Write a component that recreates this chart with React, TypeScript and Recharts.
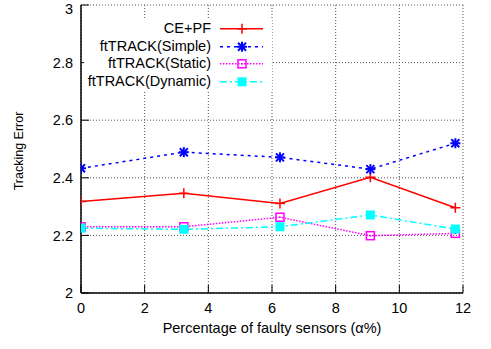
import React from 'react';
import { LineChart, Line, XAxis, YAxis, CartesianGrid, Legend, Label } from 'recharts';

const font = '"Liberation Sans", Arial, Helvetica, sans-serif';

// percentage of faulty sensors
const xValues = [0, 3.23, 6.25, 9.09, 11.76];
const cePf = [2.318, 2.346, 2.311, 2.402, 2.296];
const ftSimple = [2.433, 2.489, 2.471, 2.430, 2.520];
const ftStatic = [2.230, 2.230, 2.263, 2.199, 2.207];
const ftDynamic = [2.225, 2.221, 2.230, 2.271, 2.222];

const xTicks = [0, 2, 4, 6, 8, 10, 12];
const yTicks = [2, 2.2, 2.4, 2.6, 2.8, 3];

const data = xValues.map((x, i) => ({
  x,
  cePf: cePf[i],
  simple: ftSimple[i],
  stat: ftStatic[i],
  dyn: ftDynamic[i]
}));

type MarkerKind = 'plus' | 'star' | 'openSquare' | 'filledSquare';

function Marker({ kind, cx, cy, color }: { kind: MarkerKind; cx: number; cy: number; color: string }) {
  if (kind === 'plus') {
    return <g stroke={color} strokeWidth={1.5}>
        <line x1={cx - 5} x2={cx + 5} y1={cy} y2={cy} />
        <line x1={cx} x2={cx} y1={cy - 5} y2={cy + 5} />
      </g>;
  }
  if (kind === 'star') {
    return <g stroke={color} strokeWidth={2}>
        <line x1={cx - 5} x2={cx + 5} y1={cy} y2={cy} />
        <line x1={cx} x2={cx} y1={cy - 5} y2={cy + 5} />
        <line x1={cx - 4} x2={cx + 4} y1={cy - 4} y2={cy + 4} />
        <line x1={cx - 4} x2={cx + 4} y1={cy + 4} y2={cy - 4} />
      </g>;
  }
  if (kind === 'openSquare') {
    return <g>
        <rect x={cx - 4} y={cy - 4} width={8} height={8} fill="none" stroke={color} strokeWidth={1.5} />
        <rect x={cx - 0.75} y={cy - 0.75} width={1.5} height={1.5} fill={color} />
      </g>;
  }
  return <rect x={cx - 4.5} y={cy - 4.5} width={9} height={9} fill={color} />;
}

const series = [{
  key: 'cePf',
  name: 'CE+PF',
  color: '#ff0000',
  dash: undefined,
  marker: 'plus' as MarkerKind
}, {
  key: 'simple',
  name: 'ftTRACK(Simple)',
  color: '#0000ff',
  dash: '3 4',
  marker: 'star' as MarkerKind
}, {
  key: 'stat',
  name: 'ftTRACK(Static)',
  color: '#ff00ff',
  dash: '1.5 1.5',
  marker: 'openSquare' as MarkerKind
}, {
  key: 'dyn',
  name: 'ftTRACK(Dynamic)',
  color: '#00ffff',
  dash: '7 3 2 3',
  marker: 'filledSquare' as MarkerKind
}];

const renderLegend = () => <div style={{ background: '#fff', width: 188 }}>
    {series.map(s => <div key={s.key} style={{ display: 'flex', alignItems: 'center', height: 17.6 }}>
        <span style={{ width: 127, textAlign: 'right', fontSize: 14.5, fontFamily: font, color: '#000', lineHeight: '17.6px' }}>
          {s.name}
        </span>
        <svg width={52} height={17.6} style={{ marginLeft: 9 }}>
          <line x1={0} x2={43} y1={8.8} y2={8.8} stroke={s.color} strokeWidth={1.5} strokeDasharray={s.dash} />
          <Marker kind={s.marker} cx={22} cy={8.8} color={s.color} />
        </svg>
      </div>)}
  </div>;

const renderYLabel = (props: any) => {
  const vb = props.viewBox || {};
  const cy = (vb.y || 0) + (vb.height || 0) / 2 + 2;
  return <text x={19} y={cy} transform={`rotate(-90 19 ${cy})`} textAnchor="middle" dominantBaseline="central" fontSize={12.5} fontFamily={font} fill="#000">
      Tracking Error
    </text>;
};

export default function App() {
  const axisLine = { stroke: '#000', strokeWidth: 1.5 };
  const tickStyle = { fill: '#000', fontSize: 14.5, fontFamily: font };
  return <div>
      <style>{`body{margin:0}`}</style>
      <LineChart width={491} height={349} data={data} margin={{ top: 5, right: 28, left: 0, bottom: 0 }}>
        <CartesianGrid stroke="#555" strokeDasharray="1 2" />
        <XAxis dataKey="x" type="number" domain={[0, 12]} ticks={xTicks} allowDataOverflow height={56} tickSize={-8} tickMargin={18} axisLine={axisLine} tickLine={{ stroke: '#000' }} tick={tickStyle}>
          <Label value="Percentage of faulty sensors (α%)" position="insideBottom" offset={16} fontSize={14.5} fontFamily={font} fill="#000" />
        </XAxis>
        <XAxis xAxisId="top" orientation="top" dataKey="x" type="number" domain={[0, 12]} ticks={xTicks} allowDataOverflow height={0} tickSize={-8} axisLine={axisLine} tickLine={{ stroke: '#000' }} tick={false} />
        <YAxis type="number" domain={[2, 3]} ticks={yTicks} allowDataOverflow width={81} tickSize={-8} tickMargin={16} axisLine={axisLine} tickLine={{ stroke: '#000' }} tick={tickStyle} tickFormatter={(v: number) => String(v)}>
          <Label content={renderYLabel} />
        </YAxis>
        <YAxis yAxisId="right" orientation="right" type="number" domain={[2, 3]} ticks={yTicks} allowDataOverflow width={0} tickSize={-8} axisLine={axisLine} tickLine={{ stroke: '#000' }} tick={false} />
        <Legend layout="vertical" align="center" verticalAlign="middle" content={renderLegend} wrapperStyle={{ top: 20, left: 84, width: 188, height: 70, background: '#fff' }} />
        {series.map(s => <Line key={s.key} dataKey={s.key} name={s.name} stroke={s.color} strokeWidth={1.5} strokeDasharray={s.dash} isAnimationActive={false} dot={(p: any) => <Marker key={`${s.key}-${p.index}`} kind={s.marker} cx={p.cx} cy={p.cy} color={s.color} />} activeDot={false} />)}
      </LineChart>
    </div>;
}
